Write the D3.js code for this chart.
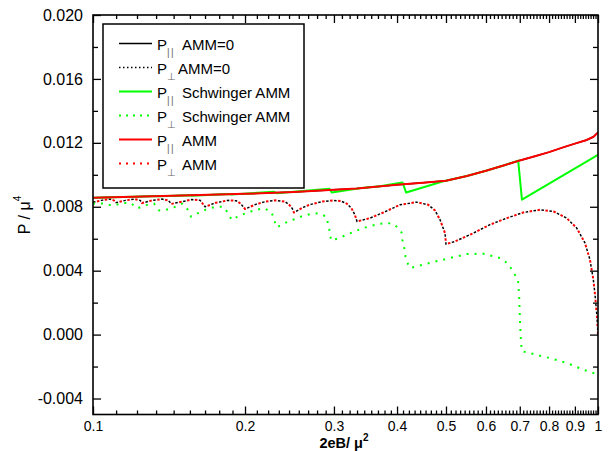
<!DOCTYPE html>
<html>
<head>
<meta charset="utf-8">
<script src="https://cdn.jsdelivr.net/npm/d3@7"></script>
<style>
  body { margin: 0; background: #fff; }
  svg { display: block; }
  text { font-family: "Liberation Sans", Arial, Helvetica, sans-serif; fill: #000; }
</style>
</head>
<body>
<svg id="chart" width="609" height="451"></svg>
<script>
// Pressure components (P / mu^4) versus field strength 2eB / mu^2.
// Each series is a list of [field, pressure] pairs.

// P_parallel, AMM = 0
const parAMM0 = [
  [0.1, 0.00856], [0.12, 0.00862], [0.15, 0.0087], [0.2, 0.00881], [0.25, 0.00892],
  [0.3, 0.00906], [0.333, 0.00914], [0.35, 0.0092], [0.4, 0.00937], [0.45, 0.0095],
  [0.5, 0.00963], [0.55, 0.00992], [0.6, 0.01025], [0.65, 0.01058], [0.7, 0.0109],
  [0.75, 0.01116], [0.8, 0.01142], [0.85, 0.0117], [0.9, 0.01195], [0.95, 0.01218],
  [0.98, 0.01238], [1.0, 0.01265]
];

// P_perpendicular, AMM = 0
const perpAMM0 = [
  [0.1, 0.00828], [0.104, 0.0084], [0.108, 0.00848], [0.110, 0.0084], [0.1111, 0.00826],
  [0.116, 0.0084], [0.121, 0.00848], [0.124, 0.0084], [0.125, 0.00823],
  [0.131, 0.0084], [0.137, 0.00848], [0.141, 0.0084], [0.1429, 0.00818],
  [0.15, 0.00832], [0.157, 0.00845], [0.163, 0.0084], [0.1667, 0.0080],
  [0.175, 0.00825], [0.185, 0.0084], [0.192, 0.00838], [0.196, 0.0082], [0.2, 0.00786],
  [0.21, 0.00815], [0.22, 0.00833], [0.23, 0.0084], [0.24, 0.00832], [0.245, 0.0081],
  [0.248, 0.0079], [0.25, 0.00764],
  [0.26, 0.00795], [0.27, 0.00815], [0.285, 0.00833], [0.30, 0.0084], [0.31, 0.00835],
  [0.318, 0.0082], [0.325, 0.0079], [0.33, 0.0075], [0.3333, 0.00708],
  [0.3536, 0.00729], [0.3757, 0.00764], [0.4054, 0.00812], [0.4375, 0.00829],
  [0.4613, 0.00812], [0.4756, 0.00777], [0.4866, 0.00719], [0.4978, 0.00635], [0.5, 0.00566],
  [0.521, 0.00583], [0.5665, 0.00635], [0.611, 0.00688], [0.66, 0.00729], [0.711, 0.00764],
  [0.768, 0.00781], [0.816, 0.00771], [0.867, 0.00729], [0.9075, 0.00667], [0.9425, 0.00573],
  [0.964, 0.00469], [0.979, 0.00344], [0.9865, 0.0025], [0.995, 0.0012], [1.0, 0.0]
];

// P_parallel, Schwinger AMM
const parSchwinger = [
  [0.1, 0.00856], [0.12, 0.00862], [0.135, 0.00867], [0.136, 0.00865], [0.155, 0.00872],
  [0.157, 0.00869], [0.186, 0.0088], [0.188, 0.00876], [0.228, 0.00894], [0.231, 0.00885],
  [0.26, 0.00898], [0.294, 0.00912], [0.297, 0.00889], [0.32, 0.00905], [0.34, 0.00917],
  [0.37, 0.00928], [0.41, 0.00952], [0.417, 0.00889], [0.494, 0.0096], [0.55, 0.00992],
  [0.6, 0.01025], [0.65, 0.01058], [0.695, 0.01089], [0.707, 0.00844], [1.0, 0.01125]
];

// P_perpendicular, Schwinger AMM
const perpSchwinger = [
  [0.1, 0.0082], [0.1024, 0.00823], [0.1065, 0.00817], [0.109, 0.00806], [0.1145, 0.00823],
  [0.1188, 0.00823], [0.1224, 0.0079], [0.1271, 0.0081], [0.1321, 0.0082], [0.1351, 0.00777],
  [0.1393, 0.0078], [0.1446, 0.00796], [0.1502, 0.0082], [0.1537, 0.00786], [0.1563, 0.00738],
  [0.1624, 0.00764], [0.1684, 0.00786], [0.1747, 0.008], [0.1812, 0.008], [0.1849, 0.00764],
  [0.1882, 0.00717], [0.1948, 0.00744], [0.2025, 0.00764], [0.2103, 0.00781], [0.2184, 0.0079],
  [0.2259, 0.00764], [0.2283, 0.00717], [0.2313, 0.00671], [0.2398, 0.00698], [0.2491, 0.00719],
  [0.2589, 0.0074], [0.269, 0.00754], [0.2787, 0.0076], [0.2895, 0.0074], [0.292, 0.00694],
  [0.2945, 0.00642], [0.296, 0.00589], [0.306, 0.00602], [0.318, 0.00625], [0.343, 0.00667],
  [0.3565, 0.00681], [0.37, 0.00694], [0.384, 0.00698], [0.396, 0.00688], [0.4082, 0.0064],
  [0.4098, 0.00594], [0.4131, 0.00548], [0.4157, 0.00489], [0.4216, 0.0043], [0.4245, 0.00417],
  [0.458, 0.00444], [0.509, 0.00479], [0.5495, 0.00504], [0.5929, 0.00506], [0.6397, 0.00479],
  [0.6635, 0.00444], [0.6787, 0.00396], [0.6944, 0.0034], [0.698, 0.0024], [0.700, 0.0012],
  [0.702, 0.0003], [0.704, -0.0005], [0.707, -0.00104], [0.742, -0.0012], [0.8, -0.00146],
  [0.866, -0.00177], [0.934, -0.00219], [1.0, -0.0025]
];

// P_parallel and P_perpendicular with full AMM (coincide with the AMM = 0 curves)
const parAMM = parAMM0.map(d => d.slice());
const perpAMM = perpAMM0.map(d => d.slice());

// Axis ticks
const xTicks = [0.1, 0.2, 0.3, 0.4, 0.5, 0.6, 0.7, 0.8, 0.9, 1];
const xTickLabels = ["0.1", "0.2", "0.3", "0.4", "0.5", "0.6", "0.7", "0.8", "0.9", "1"];
const yTicks = [-0.004, 0.000, 0.004, 0.008, 0.012, 0.016, 0.020];
const yTickLabels = ["-0.004", "0.000", "0.004", "0.008", "0.012", "0.016", "0.020"];
const yMinorTicks = [-0.002, 0.002, 0.006, 0.010, 0.014, 0.018];

// Legend entries
const legendItems = [
  { sub: "||", label: "AMM=0", color: "#000", dash: null, width: 1.5 },
  { sub: "\u22A5", label: "AMM=0", color: "#000", dash: "1.5,2.5", width: 1.3 },
  { sub: "||", label: "Schwinger AMM", color: "#00ff00", dash: null, width: 2 },
  { sub: "\u22A5", label: "Schwinger AMM", color: "#00ff00", dash: "2,5", width: 2 },
  { sub: "||", label: "AMM", color: "#ff0000", dash: null, width: 2 },
  { sub: "\u22A5", label: "AMM", color: "#ff0000", dash: "2,5", width: 2 }
];

const svg = d3.select("#chart");
const L = 93, R = 598, T = 15, B = 414.5;

const x = d3.scaleLog().domain([0.1, 1]).range([L, R]);
const y = d3.scaleLinear().domain([-0.005, 0.020]).range([B, T]);

// minor x ticks: eight evenly spaced values between neighbouring major ticks
const xMinorTicks = [];
for (let i = 0; i < xTicks.length - 1; i++) {
  const a = xTicks[i], b = xTicks[i + 1];
  for (let k = 1; k <= 8; k++) xMinorTicks.push(a + (b - a) * k / 9);
}

const line = d3.line().x(d => x(d[0])).y(d => y(d[1]));

const plot = svg.append("g");
plot.append("clipPath").attr("id", "clip")
  .append("rect").attr("x", L).attr("y", T).attr("width", R - L).attr("height", B - T);
const curves = plot.append("g").attr("clip-path", "url(#clip)").attr("fill", "none");

function draw(data, color, width, dash, offset) {
  const p = curves.append("path").datum(data).attr("d", line)
    .attr("stroke", color).attr("stroke-width", width)
    .attr("stroke-linejoin", "round");
  if (dash) p.attr("stroke-dasharray", dash).attr("stroke-dashoffset", offset || 0);
}

draw(parAMM0, "#000", 1.5);
draw(perpAMM0, "#000", 1.5, "2.5,5.5");
draw(parSchwinger, "#00ff00", 2);
draw(perpSchwinger, "#00ff00", 2, "2,6");
draw(parAMM, "#ff0000", 2);
draw(perpAMM, "#ff0000", 2, "2.5,5.5", 4);

// axes with inward ticks on all four sides
const fmtX = v => xTickLabels[xTicks.indexOf(v)];
const fmtY = v => yTickLabels[yTicks.findIndex(t => Math.abs(t - v) < 1e-9)];

function axisGroup(axis, tx, ty) {
  const g = svg.append("g").attr("transform", `translate(${tx},${ty})`).call(axis);
  g.select(".domain").remove();
  g.selectAll(".tick line").attr("stroke", "#000").attr("stroke-width", 1.3);
  g.selectAll("text").style("font-family", '"Liberation Sans", Arial, sans-serif').attr("fill", "#000");
  return g;
}

axisGroup(d3.axisBottom(x).tickValues(xTicks).tickFormat(fmtX).tickSize(-8).tickPadding(6.5), 0, B)
  .selectAll("text").attr("font-size", 14);
axisGroup(d3.axisBottom(x).tickValues(xMinorTicks).tickFormat("").tickSize(-4), 0, B);
axisGroup(d3.axisTop(x).tickValues(xTicks).tickFormat("").tickSize(-8), 0, T);
axisGroup(d3.axisTop(x).tickValues(xMinorTicks).tickFormat("").tickSize(-4), 0, T);

axisGroup(d3.axisLeft(y).tickValues(yTicks).tickFormat(fmtY).tickSize(-8).tickPadding(10), L, 0)
  .selectAll("text").attr("font-size", 16);
axisGroup(d3.axisLeft(y).tickValues(yMinorTicks).tickFormat("").tickSize(-5), L, 0);
axisGroup(d3.axisRight(y).tickValues(yTicks).tickFormat("").tickSize(-8), R, 0);
axisGroup(d3.axisRight(y).tickValues(yMinorTicks).tickFormat("").tickSize(-5), R, 0);

// frame
svg.append("rect").attr("x", L).attr("y", T).attr("width", R - L).attr("height", B - T)
  .attr("fill", "none").attr("stroke", "#000").attr("stroke-width", 1.6);

// axis titles
const xt = svg.append("text").attr("x", 344).attr("y", 447.5).attr("text-anchor", "middle")
  .attr("font-size", 14.5).attr("font-weight", "bold");
xt.append("tspan").text("2eB/ \u03BC");
xt.append("tspan").attr("font-size", 10).attr("dy", -7).text("2");

const yt = svg.append("text").attr("transform", "translate(30,215) rotate(-90)")
  .attr("text-anchor", "middle").attr("font-size", 16);
yt.append("tspan").text("P / \u03BC");
yt.append("tspan").attr("font-size", 10).attr("dy", -9).text("4");

// legend
const lg = svg.append("g");
lg.append("rect").attr("x", 103).attr("y", 24).attr("width", 201).attr("height", 164)
  .attr("fill", "#fff").attr("stroke", "#000").attr("stroke-width", 1.5);
const rowY = [43.5, 67.5, 91.5, 115.5, 139.5, 163.5];
legendItems.forEach((it, i) => {
  const yy = rowY[i];
  const ln = lg.append("line").attr("x1", 119).attr("x2", 152).attr("y1", yy).attr("y2", yy)
    .attr("stroke", it.color).attr("stroke-width", it.width);
  if (it.dash) ln.attr("stroke-dasharray", it.dash);
  const t = lg.append("text").attr("x", 157).attr("y", yy + 6).attr("font-size", 15);
  t.append("tspan").text("P");
  t.append("tspan").attr("font-size", 10).attr("dy", 6).attr("fill", "#666")
    .attr("letter-spacing", it.sub === "||" ? 1.5 : 0).text(it.sub);
  t.append("tspan").attr("x", i === 1 ? 178 : 182).attr("dy", -6).text(it.label);
});
</script>
</body>
</html>
